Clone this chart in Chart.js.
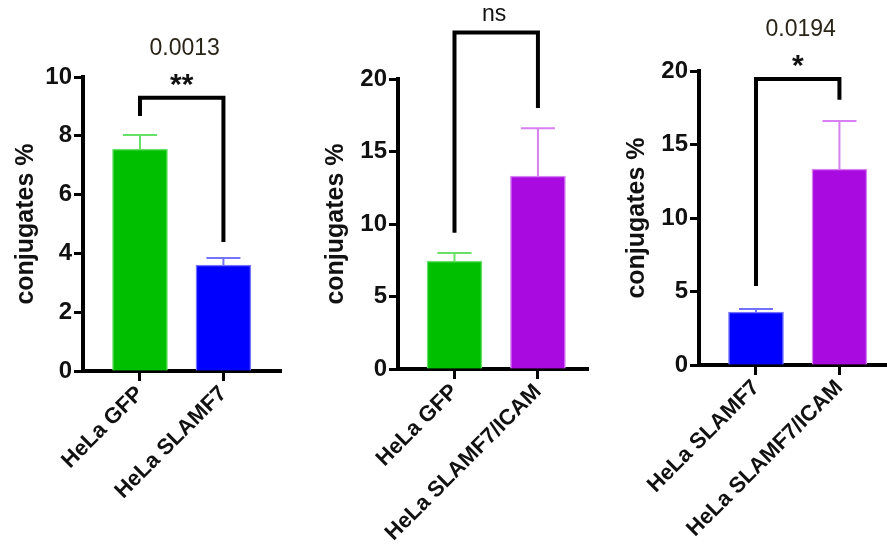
<!DOCTYPE html>
<html>
<head>
<meta charset="utf-8">
<script src="https://cdn.jsdelivr.net/npm/chart.js@4"></script>
<style>
  body { margin: 0; background: #fff; }
  .panel { position: absolute; top: 0; height: 552px; }
</style>
</head>
<body>
<div class="panel" style="left:0;width:300px"><canvas id="c1"></canvas></div>
<div class="panel" style="left:300px;width:300px"><canvas id="c2"></canvas></div>
<div class="panel" style="left:600px;width:287px"><canvas id="c3"></canvas></div>
<script>
// data
const labels1 = ["HeLa GFP", "HeLa SLAMF7"];
const means1 = [7.55, 3.6];
const errs1 = [0.48, 0.24];
const bracket1 = [9.29, 8.67, 4.39];   // top, left leg end, right leg end
const stars1 = "**";
const pval1 = "0.0013";

const labels2 = ["HeLa GFP", "HeLa SLAMF7/ICAM"];
const means2 = [7.45, 13.3];
const errs2 = [0.55, 3.3];
const bracket2 = [23.2, 9.4, 18.0];
const stars2 = "ns";
const pval2 = "";

const labels3 = ["HeLa SLAMF7", "HeLa SLAMF7/ICAM"];
const means3 = [3.6, 13.33];
const errs3 = [0.21, 3.27];
const bracket3 = [19.45, 5.37, 18.05];
const stars3 = "*";
const pval3 = "0.0194";

const yTicks1 = [0, 10, 2];
const yTicks2 = [0, 20, 5];
const yTicks3 = [0, 20, 5];

const GREEN = '#00bf00', GREEN_L = '#66e066';
const BLUE = '#0000ff', BLUE_L = '#7373ff';
const PURPLE = '#a80ae0', PURPLE_L = '#d680f2';

const FONT = '"Liberation Sans", Arial, sans-serif';

const overlay = {
  id: 'overlay',
  afterDatasetsDraw(chart, args, o) {
    const ctx = chart.ctx, x = chart.scales.x, y = chart.scales.y;
    ctx.save();
    ctx.lineWidth = 2;
    o.means.forEach((m, i) => {
      const px = x.getPixelForValue(i + 1);
      const top = y.getPixelForValue(m + o.errs[i]);
      ctx.strokeStyle = o.light[i];
      ctx.beginPath();
      ctx.moveTo(px, y.getPixelForValue(m));
      ctx.lineTo(px, top);
      ctx.moveTo(px - 17, top);
      ctx.lineTo(px + 17, top);
      ctx.stroke();
    });
    ctx.restore();
  },
  afterDraw(chart, args, o) {
    const ctx = chart.ctx, x = chart.scales.x, y = chart.scales.y;
    const x1 = x.getPixelForValue(1), x2 = x.getPixelForValue(2);
    const top = y.getPixelForValue(o.bracket[0]);
    ctx.save();
    ctx.strokeStyle = '#000';
    ctx.lineWidth = 4;
    ctx.lineJoin = 'miter';
    ctx.beginPath();
    ctx.moveTo(x1, y.getPixelForValue(o.bracket[1]));
    ctx.lineTo(x1, top);
    ctx.lineTo(x2, top);
    ctx.lineTo(x2, y.getPixelForValue(o.bracket[2]));
    ctx.stroke();
    const cx = (x1 + x2) / 2;
    ctx.fillStyle = '#111';
    ctx.textAlign = 'center';
    ctx.textBaseline = 'middle';
    if (o.stars === 'ns') {
      ctx.font = '23px ' + FONT;
      ctx.fillText(o.stars, cx - 2, top - 18);
    } else {
      ctx.font = 'bold 30px ' + FONT;
      ctx.fillText(o.stars, cx, top - 12);
    }
    if (o.pval) {
      ctx.font = '23px ' + FONT;
      ctx.fillStyle = '#2a2418';
      ctx.fillText(o.pval, cx + 3, top - 49);
    }
    ctx.restore();
  }
};

function makeChart(id, labels, means, errs, colors, light, bracket, stars, pval, yt, geo) {
  const points = means.map((m, i) => ({ x: i + 1, y: m }));
  new Chart(document.getElementById(id), {
    type: 'bar',
    data: {
      datasets: [{
        data: points,
        backgroundColor: colors,
        borderColor: light,
        borderWidth: 1.5,
        barThickness: 55
      }]
    },
    options: {
      responsive: true,
      maintainAspectRatio: false,
      animation: false,
      devicePixelRatio: 1,
      layout: { padding: { left: 0, right: geo.padR, top: geo.top, bottom: 0 } },
      plugins: {
        legend: { display: false },
        tooltip: { enabled: false },
        overlay: { means, errs, light, bracket, stars, pval }
      },
      scales: {
        x: {
          type: 'linear',
          offset: false,
          min: geo.xmin, max: geo.xmax,
          afterBuildTicks: s => { s.ticks = labels.map((_, i) => ({ value: i + 1 })); },
          afterFit: s => { s.height = geo.xh; },
          border: { color: '#000', width: 4 },
          grid: { offset: false, drawOnChartArea: false, color: '#000', tickLength: 10, tickWidth: 3 },
          ticks: {
            autoSkip: false, minRotation: 45, maxRotation: 45, padding: 0,
            color: '#111', font: { family: FONT, size: 22, weight: 'bold' },
            callback: v => labels[v - 1]
          }
        },
        y: {
          min: yt[0], max: yt[1],
          afterFit: s => { s.width = geo.yw; },
          border: { color: '#000', width: 4 },
          grid: { drawOnChartArea: false, color: '#000', tickLength: 9, tickWidth: 3 },
          ticks: {
            stepSize: yt[2], padding: 2,
            color: '#111', font: { family: FONT, size: 24, weight: 'bold' }
          },
          title: {
            display: true, text: 'conjugates %', color: '#111',
            font: { family: FONT, size: 25, weight: 'bold' },
            padding: { top: geo.tpad, bottom: 0 }
          }
        }
      }
    },
    plugins: [overlay]
  });
}

makeChart('c1', labels1, means1, errs1, [GREEN, BLUE], [GREEN_L, BLUE_L], bracket1, stars1, pval1, yTicks1,
  { padR: 19, top: 77, xh: 181, yw: 83, xmin: 0.317, xmax: 2.69, tpad: 11 });
makeChart('c2', labels2, means2, errs2, [GREEN, PURPLE], [GREEN_L, PURPLE_L], bracket2, stars2, pval2, yTicks2,
  { padR: 12, top: 79, xh: 183, yw: 98, xmin: 0.323, xmax: 2.6, tpad: 21 });
makeChart('c3', labels3, means3, errs3, [BLUE, PURPLE], [BLUE_L, PURPLE_L], bracket3, stars3, pval3, yTicks3,
  { padR: 0, top: 71, xh: 187, yw: 99, xmin: 0.317, xmax: 2.57, tpad: 22 });
</script>
</body>
</html>
